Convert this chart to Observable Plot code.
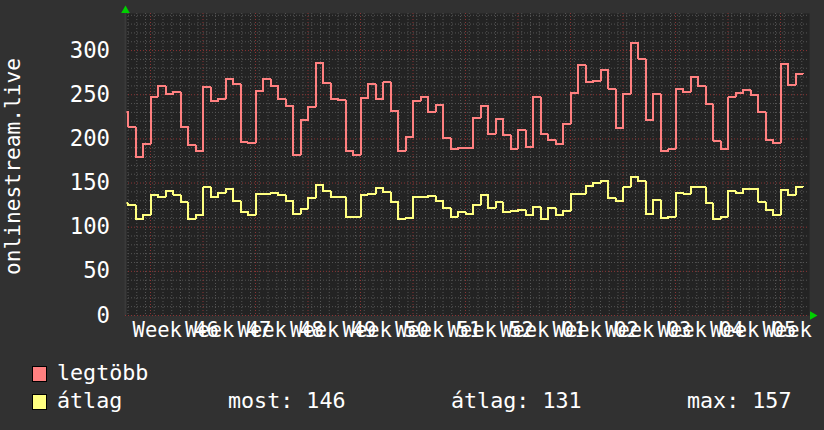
<!DOCTYPE html>
<html><head><meta charset="utf-8">
<script src="https://cdn.jsdelivr.net/npm/d3@7"></script>
<script src="https://cdn.jsdelivr.net/npm/@observablehq/plot@0.6"></script>
<style>
html,body{margin:0;padding:0}
body{background:#313131;width:824px;height:430px;overflow:hidden;position:relative;font-family:"DejaVu Sans Mono",monospace;color:#fff}
#chart{position:absolute;left:0;top:0}
.lt{position:absolute;font-size:21.7px;line-height:21px;white-space:pre;color:#fff}
.sw{position:absolute;width:13px;height:14px;border:1px solid #000}
</style></head><body>
<div id="chart"></div>
<div id="legend"></div>
<script>
// ---- data ----
const seriesNames = ["legtöbb", "átlag"];
const seriesColors = ["#ff8080", "#ffff80"];
const firstDay = -4; // first (partial) daily bucket, day 0 = first week boundary
const maxValues = [231,214,179,194,248,260,251,253,214,193,186,259,243,245,268,262,196,195,
  254,268,260,245,237,182,221,236,286,263,245,244,186,182,246,262,245,264,232,186,202,243,
  248,230,238,201,188,190,190,224,237,205,223,204,189,210,191,248,205,199,194,217,252,284,
  264,266,278,257,212,251,309,291,221,251,186,188,257,253,270,260,239,198,188,247,252,255,
  250,230,199,195,285,261,274];
const avgValues = [127,125,109,114,137,134,141,137,128,109,114,145,134,139,143,130,117,114,
  138,138,139,136,130,115,121,133,148,141,134,134,112,111,137,138,144,140,129,109,110,134,
  134,135,130,122,112,117,115,125,137,122,128,117,118,120,114,123,109,122,114,118,138,138,
  147,150,152,133,130,145,157,152,115,131,110,112,139,138,145,145,127,109,112,141,139,143,
  143,129,120,114,142,136,146];
const weekLabels = ["Week 46","Week 47","Week 48","Week 49","Week 50","Week 51","Week 52",
  "Week 01","Week 02","Week 03","Week 04","Week 05","Week 06"];
const yTicks = [0, 50, 100, 150, 200, 250, 300];
const yTitle = "onlinestream.live";
const statLabels = ["most:", "átlag:", "max:"];
const statValues = [146, 131, 157];

// ---- build ----
function toRows(vals, s) {
  const r = vals.map((v, i) => ({day: firstDay + i, v, s}));
  r.push({day: firstDay + vals.length, v: vals[vals.length - 1], s});
  return r;
}
const rows = [...toRows(maxValues, seriesNames[0]), ...toRows(avgValues, seriesNames[1])];
const xMin = -25 / 7.5, xMax = 659 / 7.5;
const minorY = d3.range(0, 341, 10).filter(d => d % 50 !== 0);
const majorY = d3.range(0, 341, 50);
const minorX = d3.range(-18, 528, 7).map(d => d / 6).filter(d => d >= xMin && Math.abs(d / 7 - Math.round(d / 7)) > 1e-6);
const majorX = d3.range(0, 88, 7);
const font = "DejaVu Sans Mono";

const chart = Plot.plot({
  width: 824, height: 340,
  marginLeft: 125, marginRight: 15, marginTop: 13, marginBottom: 25,
  style: {background: "transparent", fontFamily: font, fontSize: "20.5px", color: "#fff"},
  x: {domain: [xMin, xMax], axis: null},
  y: {domain: [0, 342], axis: null},
  color: {domain: seriesNames, range: seriesColors},
  marks: [
    Plot.frame({fill: "#232323", stroke: null}),
    Plot.ruleY(minorY, {stroke: "#555", strokeDasharray: "1,2", strokeWidth: 1}),
    Plot.ruleX(minorX, {stroke: "#555", strokeDasharray: "1,2", strokeWidth: 1}),
    Plot.ruleY(majorY, {stroke: "#8c3434", strokeDasharray: "1,2", strokeWidth: 1}),
    Plot.ruleX(majorX, {stroke: "#8c3434", strokeDasharray: "1,2", strokeWidth: 1}),
    Plot.line(rows, {x: "day", y: "v", z: "s", stroke: "s", curve: "step-after", strokeWidth: 2, clip: true, shapeRendering: "crispEdges"}),
    Plot.ruleX([xMin], {stroke: "#3a3a3a", strokeWidth: 2}),
    Plot.text(yTicks, {y: d => d, frameAnchor: "left", text: d => String(d), textAnchor: "end", dx: -15.5, fill: "#fff", lineAnchor: "middle", fontSize: 22.3}),
    Plot.text(weekLabels, {x: (d, i) => 3.5 + 7 * i, frameAnchor: "bottom", text: d => d, textAnchor: "middle", dx: -1, dy: 15, fill: "#fff", lineAnchor: "middle", fontSize: 20.5}),
    Plot.text([yTitle], {frameAnchor: "left", text: d => d, rotate: -90, textAnchor: "middle", dx: -112, dy: 2, fill: "#fff", lineAnchor: "middle", fontSize: 21.2}),
    Plot.dot([0], {frameAnchor: "top-left", symbol: "triangle", r: 3.2, fill: "#00d000", stroke: null, dy: -3}),
    Plot.dot([0], {frameAnchor: "bottom-right", symbol: "triangle", r: 3.2, fill: "#00d000", stroke: null, rotate: 90, dx: 3})
  ]
});
document.getElementById("chart").appendChild(chart);

// ---- legend ----
const leg = document.getElementById("legend");
function add(cls, style, text) {
  const el = document.createElement("div");
  el.className = cls;
  Object.assign(el.style, style);
  if (text != null) el.textContent = text;
  leg.appendChild(el);
}
const rowTops = [362, 390];
const swTops = [366, 394];
seriesNames.forEach((n, i) => {
  add("sw", {left: "32px", top: swTops[i] + "px", background: seriesColors[i]});
  add("lt", {left: "57px", top: rowTops[i] + "px"}, n);
});
const statX = [228, 451, 687];
statLabels.forEach((l, i) => add("lt", {left: statX[i] + "px", top: rowTops[1] + "px"}, l + " " + statValues[i]));
</script>
</body></html>
